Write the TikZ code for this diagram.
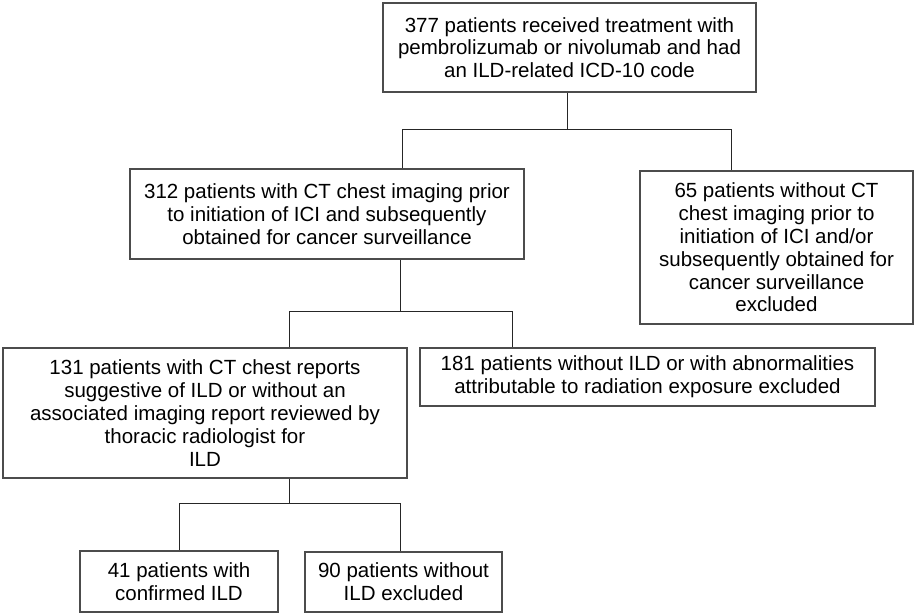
\documentclass[tikz,border=0pt]{standalone}
\usepackage{fontspec}
\setmainfont{Liberation Sans}
\begin{document}
\begin{tikzpicture}[x=0.5pt,y=-0.5pt,
  box/.style={draw=black!70, line width=0.6pt, rectangle, inner sep=0pt, align=center,
    font=\fontsize{10.25pt}{11.4pt}\selectfont},
  conn/.style={draw=black!85, line width=0.5pt}]
\useasboundingbox (0,0) rectangle (916,615);
\node[box, minimum width=186.5pt, minimum height=44.5pt] (A) at (569.5,47.5)
  {377 patients received treatment with\\pembrolizumab or nivolumab and had\\an ILD-related ICD-10 code};
\node[box, minimum width=197pt, minimum height=45pt] (B) at (327,214)
  {312 patients with CT chest imaging prior\\to initiation of ICI and subsequently\\obtained for cancer surveillance};
\node[box, minimum width=136.5pt, minimum height=76.5pt] (C) at (776.5,247.5)
  {65 patients without CT\\chest imaging prior to\\initiation of ICI and/or\\subsequently obtained for\\cancer surveillance\\excluded};
\node[box, minimum width=202pt, minimum height=65pt] (D) at (205,413)
  {131 patients with CT chest reports\\suggestive of ILD or without an\\associated imaging report reviewed by\\thoracic radiologist for\\ILD};
\node[box, minimum width=227.5pt, minimum height=29pt] (E) at (647.5,377)
  {181 patients without ILD or with abnormalities\\attributable to radiation exposure excluded};
\node[box, minimum width=99pt, minimum height=30.5pt] (F) at (179,581.5)
  {41 patients with\\confirmed ILD};
\node[box, minimum width=98.5pt, minimum height=30pt] (G) at (403.5,582)
  {90 patients without\\ILD excluded};
\coordinate (j1) at (567,130);
\coordinate (j1l) at (402,130);
\coordinate (j1r) at (731,130);
\coordinate (j2) at (400,311);
\coordinate (j2l) at (289,311);
\coordinate (j2r) at (512,311);
\coordinate (j3) at (289,503);
\coordinate (j3l) at (179,503);
\coordinate (j3r) at (400,503);
\draw[conn] (A.south -| j1) -- (j1);
\draw[conn] (B.north -| j1l) -- (j1l) -- (j1r) -- (C.north -| j1r);
\draw[conn] (B.south -| j2) -- (j2);
\draw[conn] (D.north -| j2l) -- (j2l) -- (j2r) -- (E.north -| j2r);
\draw[conn] (D.south -| j3) -- (j3);
\draw[conn] (F.north -| j3l) -- (j3l) -- (j3r) -- (G.north -| j3r);
\end{tikzpicture}
\end{document}
